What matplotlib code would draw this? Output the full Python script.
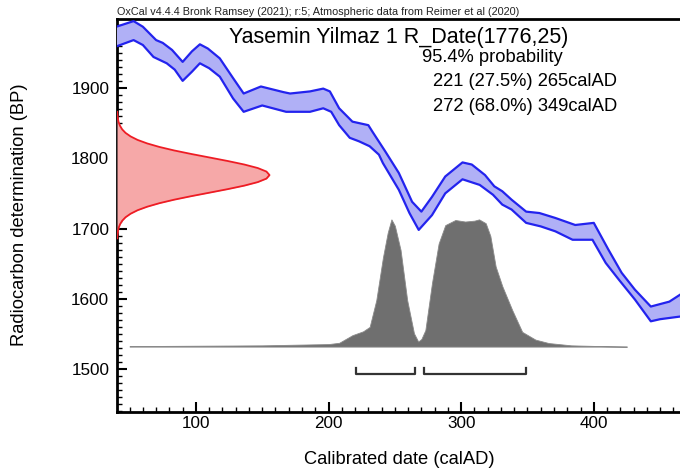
import numpy as np
import matplotlib
matplotlib.use("Agg")
import matplotlib.pyplot as plt
from matplotlib.ticker import MultipleLocator

plt.rcParams['font.family'] = ['Liberation Sans', 'DejaVu Sans']

# calibration curve band (calAD, BP)
upper_cal = [40, 53, 60, 70, 75, 82, 90, 97, 103, 109, 118, 128, 136, 149, 166, 171, 186,
             196, 201, 208, 218, 230, 233, 243, 253, 263, 270, 278, 288, 301, 308, 318,
             325, 331, 338, 349, 359, 371, 386, 400, 411, 421, 431, 443, 449, 457, 466]
upper_bp = [1987, 1995, 1987, 1968, 1964, 1954, 1937, 1952, 1962, 1956, 1942, 1914, 1892,
            1902, 1894, 1892, 1895, 1899, 1895, 1871, 1852, 1847, 1838, 1809, 1779, 1738,
            1724, 1745, 1774, 1794, 1791, 1776, 1760, 1753, 1741, 1724, 1722, 1715, 1705,
            1708, 1670, 1637, 1613, 1589, 1592, 1596, 1607]
lower_cal = [40, 53, 60, 68, 78, 84, 90, 97, 103, 110, 118, 128, 136, 150, 168, 186, 196,
             202, 208, 216, 223, 231, 238, 241, 253, 261, 268, 278, 288, 301, 314, 324,
             331, 338, 349, 360, 371, 384, 399, 409, 419, 431, 443, 450, 466]
lower_bp = [1959, 1968, 1961, 1944, 1935, 1926, 1910, 1923, 1935, 1928, 1916, 1885, 1866,
            1875, 1866, 1866, 1871, 1866, 1847, 1829, 1824, 1817, 1805, 1793, 1755, 1722,
            1698, 1719, 1750, 1770, 1762, 1748, 1734, 1727, 1708, 1703, 1696, 1684, 1684,
            1651, 1627, 1599, 1568, 1571, 1575]

# radiocarbon measurement R_Date(1776,25), relative probability
red_bp = [1866, 1861, 1856, 1851, 1846, 1841, 1836, 1831, 1826, 1821, 1816, 1811, 1806,
          1801, 1796, 1791, 1786, 1781, 1776, 1771, 1766, 1761, 1756, 1751, 1746, 1741,
          1736, 1731, 1726, 1721, 1716, 1711, 1706, 1701, 1696, 1691, 1686]
red_p = [0.0015, 0.003, 0.006, 0.011, 0.020, 0.034, 0.056, 0.089, 0.135, 0.198, 0.278,
         0.375, 0.487, 0.607, 0.726, 0.835, 0.923, 0.980, 1.0, 0.980, 0.923, 0.835, 0.726,
         0.607, 0.487, 0.375, 0.278, 0.198, 0.135, 0.089, 0.056, 0.034, 0.020, 0.011,
         0.006, 0.003, 0.0015]

# calibrated date, relative probability
post_cal = [50, 150, 200, 208, 218, 226, 231, 236, 241, 244.6, 247.4, 250, 254.3, 259.3,
            264.4, 267.6, 270, 273, 278, 283, 288, 295.6, 303, 310, 313.5, 318.5, 322,
            326, 331, 338.5, 346, 356, 366, 383, 410, 425]
post_p = [0.004, 0.01, 0.02, 0.03, 0.09, 0.12, 0.155, 0.365, 0.7, 0.895, 1.0, 0.95, 0.76,
          0.365, 0.105, 0.04, 0.06, 0.13, 0.5, 0.81, 0.955, 0.995, 0.983, 0.99, 1.0, 0.97,
          0.87, 0.63, 0.475, 0.287, 0.116, 0.055, 0.028, 0.01, 0.003, 0.0]

ranges = [(221, 265), (272, 349)]
range_text = ["221 (27.5%) 265calAD", "272 (68.0%) 349calAD"]

fig = plt.figure(figsize=(6.8, 4.71), dpi=100)
ax = fig.add_axes([117 / 680, 1 - 412 / 471, 563 / 680, 393 / 471])
x0, x1 = 40.5, 465
ax.set_xlim(x0, x1)
ax.set_ylim(1439, 1998)

# posterior
base = 1532
ax.fill_between(post_cal, base, base + 181 * np.array(post_p), color='#6f6f6f', lw=0.6,
                edgecolor='#8a8a8a', zorder=2)

# calibration curve
poly_x = upper_cal + lower_cal[::-1]
poly_y = upper_bp + lower_bp[::-1]
ax.fill(poly_x, poly_y, color='#b0b0f6', lw=0, zorder=3)
ax.plot(upper_cal, upper_bp, color='#2323ee', lw=1.6, zorder=4, solid_joinstyle='round')
ax.plot(lower_cal, lower_bp, color='#2323ee', lw=1.6, zorder=4, solid_joinstyle='round')

# measurement
red_x = x0 + 115 * np.array(red_p)
ax.fill_betweenx(red_bp, x0, red_x, color='#f6a8a8', lw=0, zorder=3)
ax.plot(red_x, red_bp, color='#ee1c24', lw=1.3, zorder=4)

# ranges
for a, b in ranges:
    ax.plot([a, a, b, b], [1502, 1493, 1493, 1502], color='#333333', lw=1.6, zorder=4)

ax.text(0.501, 0.952, "Yasemin Yilmaz 1 R_Date(1776,25)", transform=ax.transAxes,
        ha='center', va='center', fontsize=15.5)
ax.text(0.5417, 0.9008, "95.4% probability", transform=ax.transAxes,
        ha='left', va='center', fontsize=13.2)
for i, t in enumerate(range_text):
    ax.text(0.5613, 0.8397 - i * 0.0611, t, transform=ax.transAxes,
            ha='left', va='center', fontsize=13.2)

fig.text(117 / 680, 1 - 12 / 471,
         "OxCal v4.4.4 Bronk Ramsey (2021); r:5; Atmospheric data from Reimer et al (2020)",
         ha='left', va='center', fontsize=7.8, color='#222222')
fig.text(399 / 680, 1 - 459 / 471, "Calibrated date (calAD)", ha='center', va='center',
         fontsize=13.2)
fig.text(20 / 680, 1 - 215 / 471, "Radiocarbon determination (BP)", ha='center',
         va='center', rotation=90, fontsize=13.2)

for s in ['left', 'bottom', 'top']:
    ax.spines[s].set_linewidth(2)
ax.spines['right'].set_visible(False)
ax.xaxis.set_major_locator(MultipleLocator(100))
ax.xaxis.set_minor_locator(MultipleLocator(10))
ax.yaxis.set_major_locator(MultipleLocator(100))
ax.yaxis.set_minor_locator(MultipleLocator(10))
ax.tick_params(which='both', direction='in', top=False, right=False, labelsize=12.3)
ax.tick_params(which='major', length=7.5, width=1.5)
ax.tick_params(which='minor', length=3.6, width=1)
ax.tick_params(axis='y', pad=5.5)
ax.tick_params(axis='x', pad=3)

fig.savefig("out.png", dpi=100)
